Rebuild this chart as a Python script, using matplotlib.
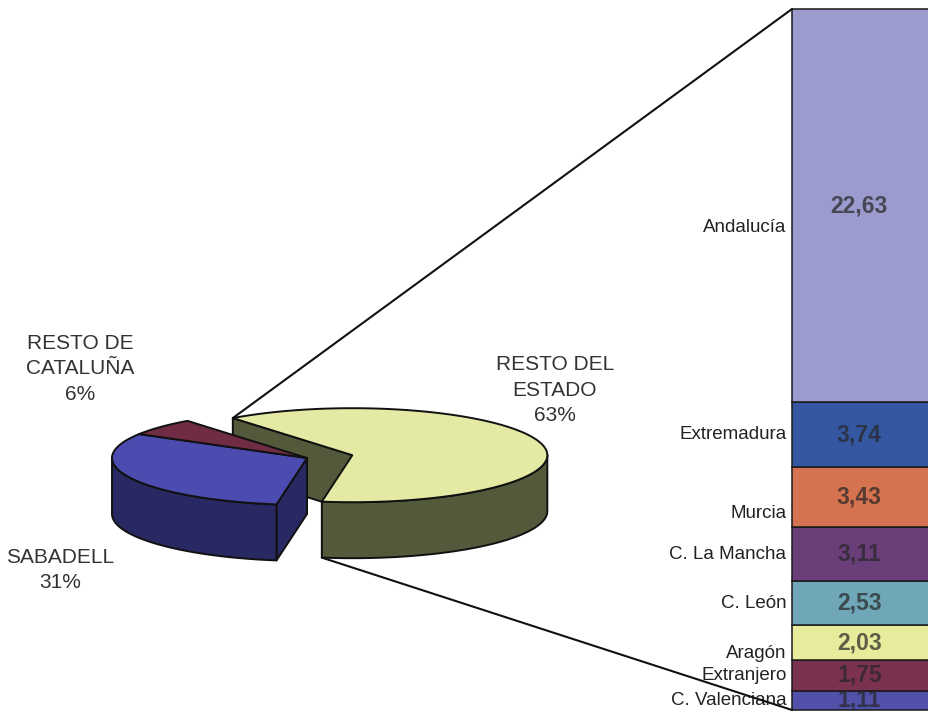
import matplotlib.pyplot as plt
import numpy as np
from matplotlib.patches import Polygon, ConnectionPatch

plt.rcParams['font.family'] = ['Liberation Sans', 'DejaVu Sans']

# pie: share of origin
pie_labels = ['SABADELL', 'RESTO DE\nCATALUÑA', 'RESTO DEL\nESTADO']
pie_pct = [31, 6, 63]
pie_top = ['#4b4bb0', '#702c45', '#e4eaa4']
pie_side = ['#282962', '#45182a', '#535a3b']
pie_explode = [0, 0, 0.24]

# bar: breakdown of "resto del estado", bottom to top
regions = ['C. Valenciana', 'Extranjero', 'Aragón', 'C. León',
           'C. La Mancha', 'Murcia', 'Extremadura', 'Andalucía']
region_vals = [1.11, 1.75, 2.03, 2.53, 3.11, 3.43, 3.74, 22.63]
region_colors = ['#5151aa', '#7b3250', '#e9eb9c', '#6fa7b8',
                 '#6a3e79', '#d5724f', '#3557a1', '#9b9bce']
label_shift = {'Andalucía': 16, 'Murcia': 12, 'Aragón': 8}

W, H = 929, 712
fig = plt.figure(figsize=(W / 100, H / 100), dpi=100)
ax = fig.add_axes([0, 0, 1, 1])
ax.set_xlim(0, W)
ax.set_ylim(H, 0)
ax.axis('off')

# 3d pie drawn as projected polygons (pixel units)
cx, cy = 307, 458
rx, ry = 195, 47
depth = 56
start = 261


def rim(c, ang, dz=0.0):
    r = np.radians(np.atleast_1d(ang))
    return np.column_stack([c[0] + rx * np.cos(r), c[1] - ry * np.sin(r) + dz])


def front_arcs(lo, hi):
    out = []
    for k in range(-2, 3):
        a, b = max(lo, -180 + 360 * k), min(hi, 360 * k)
        if b > a:
            out.append((a, b))
    return out


faces, tops, spans = [], [], []
edge = dict(edgecolor='#111111', linewidth=1.4, joinstyle='round')
hi = start
for pct, ctop, cside, ex in zip(pie_pct, pie_top, pie_side, pie_explode):
    lo = hi - pct * 3.6
    mid = np.radians((lo + hi) / 2)
    c = (cx + ex * rx * np.cos(mid), cy - ex * ry * np.sin(mid))
    spans.append((c, lo, hi))

    for a, b in front_arcs(lo, hi):
        t = np.linspace(a, b, 80)
        poly = np.vstack([rim(c, t), rim(c, t[::-1], depth)])
        faces.append((poly[:, 1].mean(), poly, cside))
    for t, vis in ((hi, np.cos(np.radians(hi)) < 0), (lo, np.cos(np.radians(lo)) > 0)):
        if vis:
            p = rim(c, t)[0]
            poly = np.array([c, p, p + [0, depth], (c[0], c[1] + depth)])
            faces.append((poly[:, 1].mean(), poly, cside))

    t = np.linspace(lo, hi, 160)
    tops.append((np.vstack([[c], rim(c, t)]), ctop))
    hi = lo

for _, poly, col in sorted(faces, key=lambda f: f[0]):
    ax.add_patch(Polygon(poly, closed=True, facecolor=col, **edge))
for poly, col in tops:
    ax.add_patch(Polygon(poly, closed=True, facecolor=col, **edge))

# slice labels
label_pos = [(60, 570), (80, 369), (555, 390)]
for name, pct, (x, y) in zip(pie_labels, pie_pct, label_pos):
    ax.text(x, y, f'{name}\n{pct}%', ha='center', va='center',
            multialignment='center', fontsize=15, color='#333333',
            linespacing=1.45)

# stacked bar
bx0, bx1, by0, by1 = 792, 945, 9, 710
axb = fig.add_axes([bx0 / W, (H - by1) / H, (bx1 - bx0) / W, (by1 - by0) / H])
total = sum(region_vals)
bottoms = np.concatenate([[0], np.cumsum(region_vals)[:-1]])
axb.bar(0.5, region_vals, width=1, bottom=bottoms, color=region_colors,
        edgecolor='#1a1a1a', linewidth=1.1, clip_on=False)
axb.set_xlim(0, 1)
axb.set_ylim(0, total)
axb.axis('off')

for name, v, b in zip(regions, region_vals, bottoms):
    m = b + v / 2
    axb.text(0.44, m, f'{v:.2f}'.replace('.', ','), ha='center', va='center',
             fontsize=16.5, fontweight='bold', color='#262626', alpha=0.72)
    axb.annotate(name, xy=(0, m), xytext=(-4, -label_shift.get(name, 0)),
                 textcoords='offset points', ha='right', va='center',
                 fontsize=13.5, color='#222222', annotation_clip=False)

# connector lines from the exploded slice to the bar
c, lo, hi = spans[2]
top_pt = rim(c, hi)[0]
bot_pt = rim(c, lo, depth)[0]
for p, yb in ((top_pt, total), (bot_pt, 0)):
    con = ConnectionPatch(xyA=tuple(p), coordsA=ax.transData,
                          xyB=(0, yb), coordsB=axb.transData,
                          color='#111111', linewidth=1.5, shrinkA=0, shrinkB=0)
    fig.add_artist(con)

fig.savefig('out.png', dpi=100)
